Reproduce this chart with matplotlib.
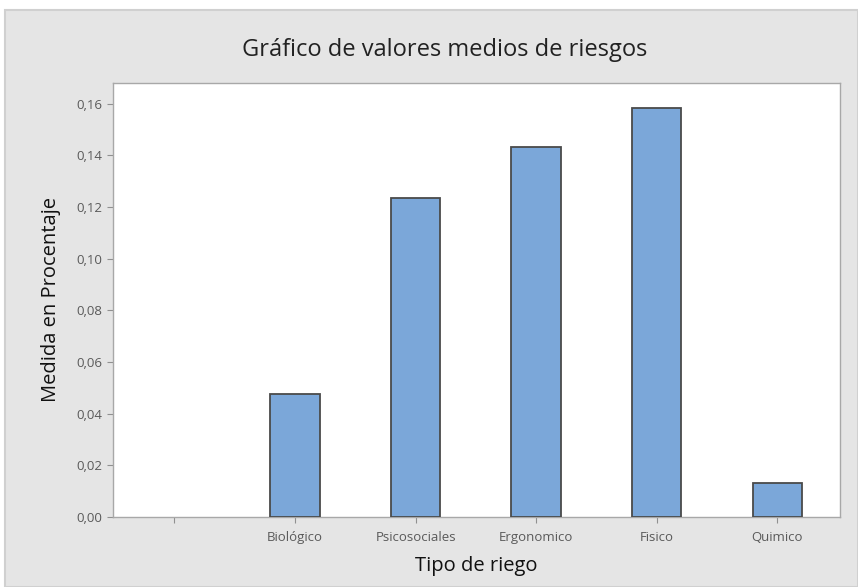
import matplotlib
matplotlib.use("Agg")
import matplotlib.pyplot as plt
from matplotlib.patches import Rectangle

categories = ["", "Biológico", "Psicosociales", "Ergonomico", "Fisico", "Quimico"]
values = [0.0, 0.0477, 0.1233, 0.1434, 0.1585, 0.0132]
has_bar = [False, True, True, True, True, True]
yticks = [0.00, 0.02, 0.04, 0.06, 0.08, 0.10, 0.12, 0.14, 0.16]
ytick_labels = ["0,00", "0,02", "0,04", "0,06", "0,08", "0,10", "0,12", "0,14", "0,16"]

plt.rcParams['font.family'] = ['Open Sans', 'DejaVu Sans']

W, H = 858, 587
fig = plt.figure(figsize=(W/100, H/100), dpi=100)
fig.patch.set_facecolor('white')
bg = '#E5E5E5'
fig.patches.append(Rectangle((5/W, 0), 1 - 5/W, (H - 10)/H, transform=fig.transFigure,
                             facecolor=bg, edgecolor='#D0D0D0', linewidth=1.5, zorder=-10))

ax = fig.add_axes([113/W, 1 - 517/H, (840-113)/W, (517-83)/H])
ax.set_zorder(5)
ax.set_facecolor('white')

xs = [i for i, b in enumerate(has_bar) if b]
vs = [v for v, b in zip(values, has_bar) if b]
ax.bar(xs, vs, width=0.41, color='#7BA7D9', edgecolor='#4A4A4A', linewidth=1.3, zorder=3)

ax.set_xlim(-0.51, 5.52)
ax.set_ylim(0, 0.168)
ax.set_xticks(range(len(categories)))
ax.set_xticklabels(categories, fontsize=9.5, color='#5A5A5A')
ax.set_yticks(yticks)
ax.set_yticklabels(ytick_labels, fontsize=9.5, color='#5A5A5A')
ax.tick_params(axis='both', direction='out', length=4, color='#909090', width=0.8)
ax.tick_params(axis='x', pad=6)
ax.tick_params(axis='y', pad=4)
for s in ax.spines.values():
    s.set_color('#A8A8A8')
    s.set_linewidth(1.0)

ax.set_xlabel('Tipo de riego', fontsize=14.5, color='#111111', labelpad=9)
ax.set_ylabel('Medida en Procentaje', fontsize=14.5, color='#111111', labelpad=11)
fig.text(445 / W, 1 - 50/H, 'Gráfico de valores medios de riesgos',
         fontsize=17, color='#222222', ha='center', va='center')

fig.savefig('out.png', dpi=100, facecolor=fig.get_facecolor())
